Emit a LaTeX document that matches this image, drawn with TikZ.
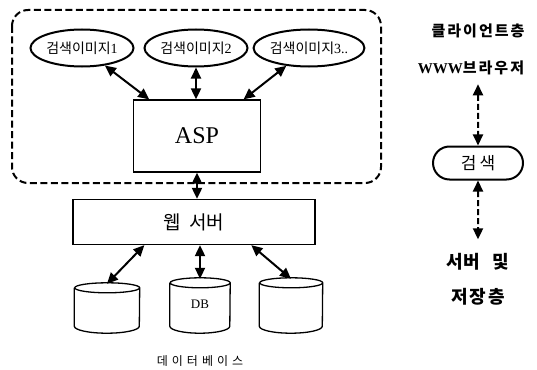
\documentclass[tikz,border=0pt]{standalone}
\usepackage{fontspec}
\setmainfont{Liberation Serif}
\newfontfamily\kor{Noto Sans CJK KR}
\usetikzlibrary{shapes.geometric,shapes.misc,arrows.meta}

\tikzset{
  imgnode/.style={draw, ellipse, line width=2pt, minimum width=103pt, minimum height=37pt,
    inner sep=0pt, font=\fontsize{14}{14}\selectfont},
  boxnode/.style={draw, line width=1.3pt, inner sep=0pt},
  dbbody/.style={inner sep=0pt, minimum height=38pt, font=\fontsize{13}{13}\selectfont},
  link/.style={{Triangle[length=11pt,width=10pt]}-{Triangle[length=11pt,width=10pt]}, line width=2pt},
  dlink/.style={link, dash pattern=on 6pt off 3pt},
  lbl/.style={inner sep=0pt, font=\kor\bfseries\fontsize{15}{15}\selectfont},
}
% outline of a drum round a dbbody node (#2 = half its width)
\newcommand\drumshape[2]{%
  \draw[line width=1.3pt] (#1.north west) -- (#1.south west)
    arc[start angle=180, end angle=360, x radius=#2, y radius=7pt]
    -- (#1.north east)
    arc[start angle=0, end angle=360, x radius=#2, y radius=5pt];
}

\begin{document}
\begin{tikzpicture}[x=1pt,y=-1pt]
  \useasboundingbox (0,0) rectangle (537,369);

  % client side: search images around the ASP page
  \draw[line width=2pt, dash pattern=on 7pt off 3.5pt, rounded corners=16pt] (12,10) rectangle (381,183);
  \node[imgnode] (img1) at (82,48) {{\kor 검색이미지}1};
  \node[imgnode] (img2) at (196,48) {{\kor 검색이미지}2};
  \node[imgnode] (img3) at (309,48) {{\kor 검색이미지}3..};
  \node[boxnode, minimum width=127pt, minimum height=72pt, font=\fontsize{24}{24}\selectfont] (asp) at (197,136) {ASP};
  \draw[link] (img1) -- (asp);
  \draw[link] (img2.south) -- (img2.south |- asp.north);
  \draw[link] (img3) -- (asp);

  % web server and databases
  \node[boxnode, minimum width=242pt, minimum height=45pt, font=\kor\fontsize{19}{19}\selectfont] (web) at (194,222) {웹\ \ 서버};
  \draw[link] (asp.south) -- (asp.south |- web.north);
  \node[dbbody, minimum width=65pt] (db1) at (107,307) {};
  \drumshape{db1}{32.5pt}
  \node[dbbody, minimum width=60pt, minimum height=43pt] (db2) at (200,304.5) {DB};
  \drumshape{db2}{30pt}
  \node[dbbody, minimum width=63pt, minimum height=43pt] (db3) at (291,304.5) {};
  \drumshape{db3}{31.5pt}
  \draw[link] (web.205) -- ([yshift=4pt]db1.north);
  \draw[link] (db2.north |- web.south) -- ([yshift=4pt]db2.north);
  \draw[link] (web.338) -- ([yshift=4pt]db3.north);
  \node[lbl, font=\kor\fontsize{12}{12}\selectfont] (dbname) at (200,361) {데\kern4pt 이\kern4pt 터\kern4pt 베\kern4pt 이\kern4pt 스};

  % layers
  \node[lbl] (client) at (478,31) {클\kern2pt 라\kern2pt 이\kern2pt 언\kern2pt 트\kern2pt 층};
  \node[lbl] (www) at (471,68) {{\rmfamily\bfseries WWW}브\kern2pt 라\kern2pt 우\kern2pt 저};
  \node[draw, rounded rectangle, line width=2pt, minimum width=90pt, minimum height=33pt,
    inner sep=0pt, font=\kor\fontsize{17}{17}\selectfont] (search) at (478,163) {검\kern3pt 색};
  \node[lbl, font=\kor\bfseries\fontsize{18}{18}\selectfont] (server) at (478,262) {서버\ \ \ 및};
  \node[lbl, font=\kor\bfseries\fontsize{18}{18}\selectfont] (store) at (478,297) {저\kern2pt 장\kern2pt 층};
  \draw[dlink, shorten <=9pt] (www.south -| search) -- (search);
  \draw[dlink, shorten >=14pt] (search) -- (server);
\end{tikzpicture}
\end{document}
